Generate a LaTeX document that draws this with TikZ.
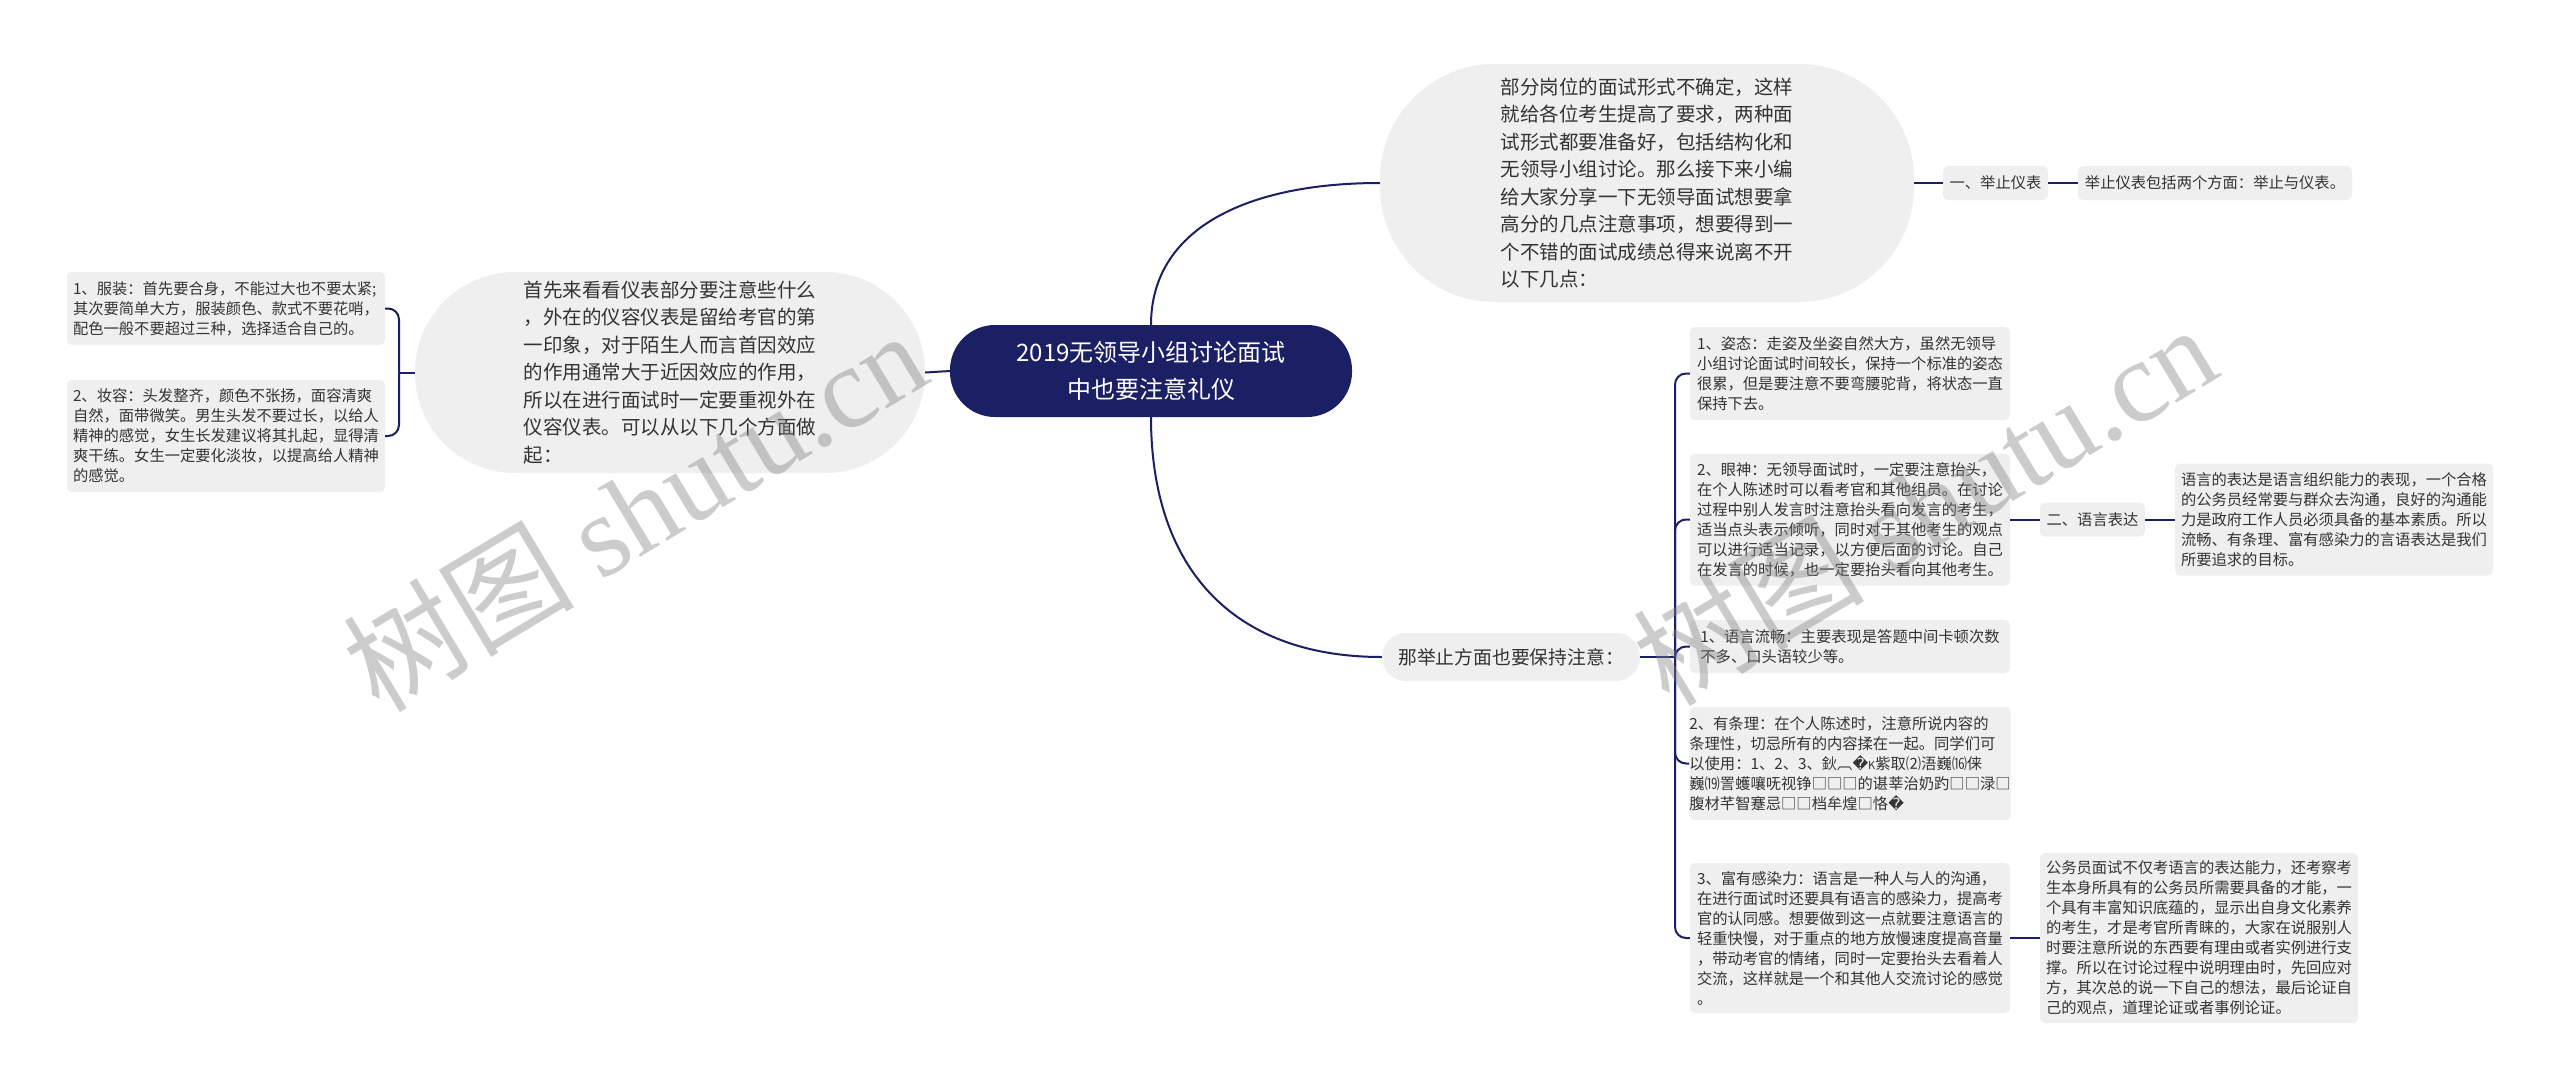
\documentclass[tikz,border=0pt]{standalone}
\usepackage{fontspec}
\setmainfont{Noto Sans CJK SC}
\newfontfamily\djv{DejaVu Sans}
\newfontfamily\wmserif{Liberation Serif}
\definecolor{navy}{RGB}{27,31,99}
\definecolor{boxgray}{RGB}{239,239,239}
\definecolor{txt}{RGB}{51,51,51}
\newcommand{\rep}{{\djv\symbol{"FFFD}}}
\tikzset{
  leaf/.style={fill=boxgray, rounded corners=5pt, text=txt, align=left, inner sep=0pt,
    font=\fontsize{15.3}{20}\selectfont},
  mid/.style={fill=boxgray, text=txt, align=left, inner sep=0pt,
    font=\fontsize{19.5}{27.5}\selectfont},
  conn/.style={draw=navy, line width=2pt},
  bracket/.style={conn, rounded corners=11pt},
  wm/.style={text=gray, text opacity=0.4, font=\fontsize{116}{116}\selectfont, inner sep=0pt}
}
\begin{document}
\begin{tikzpicture}[x=1pt,y=-1pt]
\fill[white] (0,0) rectangle (2560,1090);
\useasboundingbox (0,0) rectangle (2560,1090);

% centre
\node[fill=navy, rounded corners=45pt, text=white, align=center, inner sep=0pt,
  minimum width=402pt, minimum height=92pt, font=\fontsize{24}{37}\selectfont]
  (ctr) at (1151,371) {2019无领导小组讨论面试\\中也要注意礼仪};

% left branch
\node[mid, rounded corners=100pt, minimum width=510pt, minimum height=201pt] (lm) at (670,372.5)
 {首先来看看仪表部分要注意些什么\\，外在的仪容仪表是留给考官的第\\一印象，对于陌生人而言首因效应\\的作用通常大于近因效应的作用，\\所以在进行面试时一定要重视外在\\仪容仪表。可以从以下几个方面做\\起：};
\node[leaf, minimum width=318pt, minimum height=73pt] (l1) at (226,308.5)
 {1、服装：首先要合身，不能过大也不要太紧;\\其次要简单大方，服装颜色、款式不要花哨，\\配色一般不要超过三种，选择适合自己的。};
\node[leaf, minimum width=318pt, minimum height=112pt] (l2) at (226,436)
 {2、妆容：头发整齐，颜色不张扬，面容清爽\\自然，面带微笑。男生头发不要过长，以给人\\精神的感觉，女生长发建议将其扎起，显得清\\爽干练。女生一定要化淡妆，以提高给人精神\\的感觉。};

% top right branch
\node[mid, rounded corners=115pt, minimum width=534pt, minimum height=238pt] (tr) at (1647,183)
 {部分岗位的面试形式不确定，这样\\就给各位考生提高了要求，两种面\\试形式都要准备好，包括结构化和\\无领导小组讨论。那么接下来小编\\给大家分享一下无领导面试想要拿\\高分的几点注意事项，想要得到一\\个不错的面试成绩总得来说离不开\\以下几点：};
\node[leaf, align=center, minimum width=105pt, minimum height=34pt] (a1) at (1995.5,183) {一、举止仪表};
\node[leaf, align=center, minimum width=274pt, minimum height=34pt] (a2) at (2215,183) {举止仪表包括两个方面：举止与仪表。};

% bottom right branch
\node[fill=boxgray, rounded corners=24pt, text=txt, inner sep=0pt, minimum width=258pt, minimum height=48pt,
  font=\fontsize{18.8}{24}\selectfont] (nj) at (1511,657) {那举止方面也要保持注意：};

\node[leaf, minimum width=320pt, minimum height=93pt] (r1) at (1850,373.5)
 {1、姿态：走姿及坐姿自然大方，虽然无领导\\小组讨论面试时间较长，保持一个标准的姿态\\很累，但是要注意不要弯腰驼背，将状态一直\\保持下去。};
\node[leaf, minimum width=320pt, minimum height=132pt] (r2) at (1850,519.5)
 {2、眼神：无领导面试时，一定要注意抬头，\\在个人陈述时可以看考官和其他组员。在讨论\\过程中别人发言时注意抬头看向发言的考生，\\适当点头表示倾听，同时对于其他考生的观点\\可以进行适当记录，以方便后面的讨论。自己\\在发言的时候，也一定要抬头看向其他考生。};
\node[leaf, minimum width=320pt, minimum height=53pt] (r3) at (1850,646.5)
 {1、语言流畅：主要表现是答题中间卡顿次数\\不多、口头语较少等。};
\node[leaf, minimum width=320pt, minimum height=113pt] (r4) at (1850,763.5)
 {2、有条理：在个人陈述时，注意所说内容的\\条理性，切忌所有的内容揉在一起。同学们可\\以使用：1、2、3、鈥︹\rep{\fontsize{11}{20}\selectfont K}紫取⑵浯巍⒃俫\\巍⒆詈蠖嚷呒视铮□□□的谌莘治奶趵□□渌□\\腹材芊智蹇忌□□档牟煌□恪\rep};
\node[leaf, minimum width=320pt, minimum height=150pt] (r5) at (1850,938)
 {3、富有感染力：语言是一种人与人的沟通，\\在进行面试时还要具有语言的感染力，提高考\\官的认同感。想要做到这一点就要注意语言的\\轻重快慢，对于重点的地方放慢速度提高音量\\，带动考官的情绪，同时一定要抬头去看着人\\交流，这样就是一个和其他人交流讨论的感觉\\。};

\node[leaf, align=center, minimum width=105pt, minimum height=34pt] (b1) at (2092.5,519.5) {二、语言表达};
\node[leaf, minimum width=318pt, minimum height=112pt] (b2) at (2334,519.5)
 {语言的表达是语言组织能力的表现，一个合格\\的公务员经常要与群众去沟通，良好的沟通能\\力是政府工作人员必须具备的基本素质。所以\\流畅、有条理、富有感染力的言语表达是我们\\所要追求的目标。};
\node[leaf, minimum width=318pt, minimum height=170pt] (c1) at (2199,938)
 {公务员面试不仅考语言的表达能力，还考察考\\生本身所具有的公务员所需要具备的才能，一\\个具有丰富知识底蕴的，显示出自身文化素养\\的考生，才是考官所青睐的，大家在说服别人\\时要注意所说的东西要有理由或者实例进行支\\撑。所以在讨论过程中说明理由时，先回应对\\方，其次总的说一下自己的想法，最后论证自\\己的观点，道理论证或者事例论证。};

% connectors
\draw[conn] (ctr.west) -- (lm.east);
\draw[conn] (ctr.north) .. controls +(0,-95) and +(-135,0) .. (tr.west);
\draw[conn] (ctr.south) .. controls +(0,150) and +(-150,0) .. (nj.west);

\coordinate (jl) at (399,372.5);
\draw[conn] (lm.west) -- (jl);
\draw[bracket] (jl) |- (l1.east);
\draw[bracket] (jl) |- (l2.east);

\draw[conn] (tr.east) -- (a1.west);
\draw[conn] (a1.east) -- (a2.west);

\coordinate (jr) at (1675,657);
\draw[conn] (nj.east) -- (jr);
\draw[bracket] (jr) |- (r1.west);
\draw[bracket] (jr) |- (r2.west);
\draw[bracket] (jr) |- (r3.west);
\draw[bracket] (jr) |- (r4.west);
\draw[bracket] (jr) |- (r5.west);

\draw[conn] (r2.east) -- (b1.west);
\draw[conn] (b1.east) -- (b2.west);
\draw[conn] (r5.east) -- (c1.west);

% watermarks
\node[wm, rotate=31] (w1) at (634,510) {树图 {\wmserif shutu.cn}};
\node[wm, rotate=31] (w2) at (1924,504) {树图 {\wmserif shutu.cn}};
\end{tikzpicture}
\end{document}
